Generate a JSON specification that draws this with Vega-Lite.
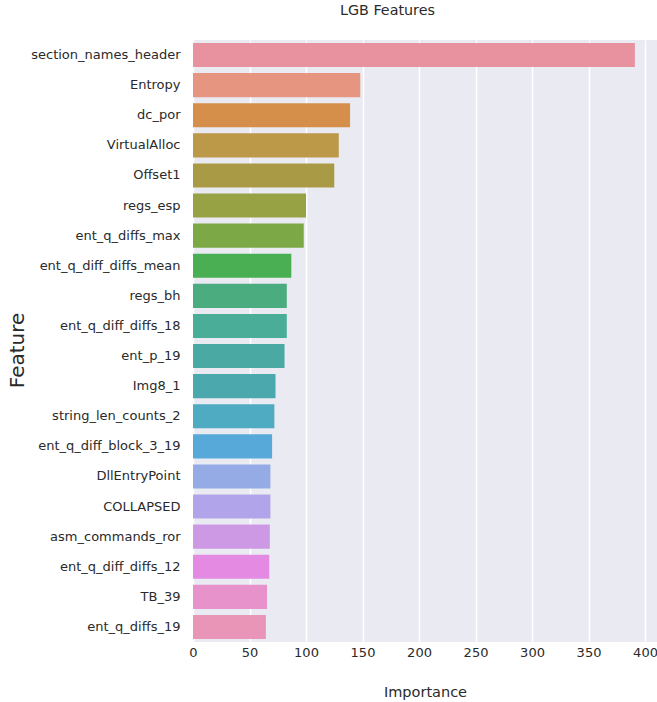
{
  "$schema": "https://vega.github.io/schema/vega-lite/v6.json",
  "autosize": {"type": "none"},
  "padding": {"left": 193, "top": 40, "right": 0, "bottom": 60},
  "width": 464,
  "height": 602,
  "background": "#ffffff",
  "title": {
    "text": "LGB Features",
    "anchor": "start",
    "frame": "group",
    "dx": 147,
    "offset": 11,
    "baseline": "alphabetic",
    "font": "DejaVu Sans",
    "fontSize": 14.3,
    "fontWeight": "normal",
    "color": "#2a2a2a"
  },
  "data": {
    "values": [
      {"Feature": "section_names_header", "Importance": 391},
      {"Feature": "Entropy", "Importance": 148},
      {"Feature": "dc_por", "Importance": 139},
      {"Feature": "VirtualAlloc", "Importance": 129},
      {"Feature": "Offset1", "Importance": 125},
      {"Feature": "regs_esp", "Importance": 100},
      {"Feature": "ent_q_diffs_max", "Importance": 98},
      {"Feature": "ent_q_diff_diffs_mean", "Importance": 87},
      {"Feature": "regs_bh", "Importance": 83},
      {"Feature": "ent_q_diff_diffs_18", "Importance": 83},
      {"Feature": "ent_p_19", "Importance": 81},
      {"Feature": "Img8_1", "Importance": 73},
      {"Feature": "string_len_counts_2", "Importance": 72},
      {"Feature": "ent_q_diff_block_3_19", "Importance": 70},
      {"Feature": "DllEntryPoint", "Importance": 68.5},
      {"Feature": "COLLAPSED", "Importance": 68.5},
      {"Feature": "asm_commands_ror", "Importance": 68},
      {"Feature": "ent_q_diff_diffs_12", "Importance": 67.5},
      {"Feature": "TB_39", "Importance": 65.5},
      {"Feature": "ent_q_diffs_19", "Importance": 64.5}
    ]
  },
  "mark": {"type": "bar"},
  "encoding": {
    "y": {
      "field": "Feature",
      "type": "nominal",
      "sort": null,
      "scale": {"paddingInner": 0.2, "paddingOuter": 0.1},
      "axis": {
        "title": "Feature",
        "titleFont": "DejaVu Sans",
        "titleFontSize": 20,
        "titleFontWeight": "normal",
        "titleColor": "#2a2a2a",
        "titleBaseline": "alphabetic",
        "titleX": -170,
        "titleY": 310,
        "titleAngle": -90,
        "titleAlign": "center",
        "labelFont": "DejaVu Sans",
        "labelFontSize": 13,
        "labelColor": "#2a2a2a",
        "labelPadding": 13,
        "ticks": false,
        "domain": false,
        "grid": false
      }
    },
    "x": {
      "field": "Importance",
      "type": "quantitative",
      "scale": {"domain": [0, 410.6], "nice": false, "zero": true},
      "axis": {
        "title": "Importance",
        "titleFont": "DejaVu Sans",
        "titleFontSize": 14.5,
        "titleFontWeight": "normal",
        "titleColor": "#2a2a2a",
        "titleBaseline": "alphabetic",
        "titleY": 54,
        "labelFont": "DejaVu Sans",
        "labelFontSize": 13,
        "labelColor": "#2a2a2a",
        "labelPadding": 4,
        "labelBaseline": "top",
        "labelFlush": false,
        "values": [0, 50, 100, 150, 200, 250, 300, 350, 400],
        "ticks": false,
        "domain": false,
        "grid": true,
        "gridColor": "#ffffff",
        "gridWidth": 1.5,
        "gridOpacity": 1
      }
    },
    "color": {
      "field": "Feature",
      "type": "nominal",
      "legend": null,
      "scale": {
        "domain": ["section_names_header", "Entropy", "dc_por", "VirtualAlloc", "Offset1", "regs_esp", "ent_q_diffs_max", "ent_q_diff_diffs_mean", "regs_bh", "ent_q_diff_diffs_18", "ent_p_19", "Img8_1", "string_len_counts_2", "ent_q_diff_block_3_19", "DllEntryPoint", "COLLAPSED", "asm_commands_ror", "ent_q_diff_diffs_12", "TB_39", "ent_q_diffs_19"],
        "range": ["#e8929f", "#e59580", "#d58f4a", "#bb9949", "#a99b45", "#97a245", "#7da846", "#4aae52", "#4bac80", "#4aad97", "#4aa9a2", "#4ba8ad", "#4eabc1", "#56a9d8", "#94abe6", "#b2a4ea", "#cd99e5", "#e58ae2", "#e892cb", "#e895b8"]
      }
    }
  },
  "config": {
    "view": {"fill": "#eaeaf2", "stroke": null}
  }
}
